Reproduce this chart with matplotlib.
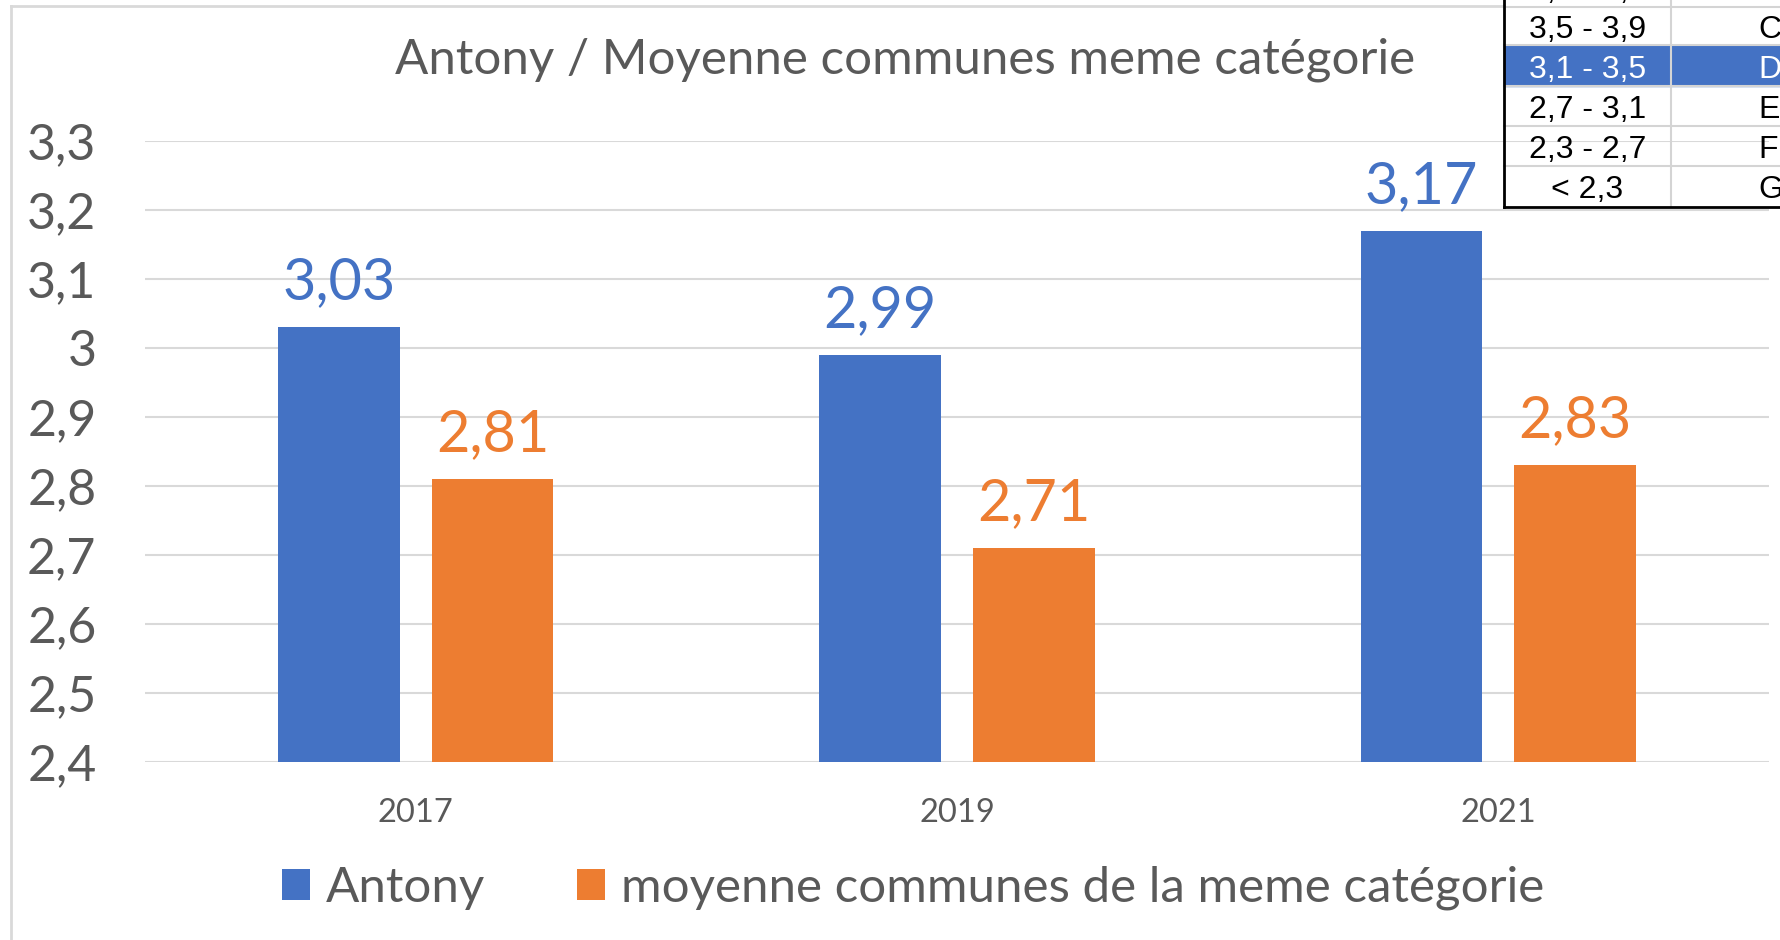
import numpy as np
import matplotlib
matplotlib.use("Agg")
import matplotlib.pyplot as plt
from matplotlib.patches import Rectangle

# data
years = ["2017", "2019", "2021"]
antony = [3.03, 2.99, 3.17]
moyenne = [2.81, 2.71, 2.83]
series_names = ["Antony", "moyenne communes de la meme catégorie"]
title = "Antony / Moyenne communes meme catégorie"
y_ticks = [2.4, 2.5, 2.6, 2.7, 2.8, 2.9, 3.0, 3.1, 3.2, 3.3]

# little lookup table pasted on the sheet (top right)
table_ranges = ["3,9 - 4,3", "3,5 - 3,9", "3,1 - 3,5", "2,7 - 3,1", "2,3 - 2,7", "< 2,3"]
table_letters = ["B", "C", "D", "E", "F", "G"]
highlight_row = 2

BLUE = "#4472C4"
ORANGE = "#ED7D31"
GRAY = "#595959"
GRID = "#D9D9D9"
FONT = "Lato"

W, H = 1780, 940
fig = plt.figure(figsize=(W / 100, H / 100), dpi=100)


def fx(px):
    return px / W


def fy(py):
    return 1 - py / H


# table drawn on the figure, below the chart
row_edges = [-33, 7, 45, 86, 126, 166, 207]
tx0, tx1, tx2 = 1504, 1671, 1790
for i, (rng, let) in enumerate(zip(table_ranges, table_letters)):
    top, bot = row_edges[i], row_edges[i + 1]
    if i == highlight_row:
        fig.patches.append(Rectangle((fx(tx0), fy(bot)), fx(tx2 - tx0), (bot - top) / H,
                                     transform=fig.transFigure, color=BLUE, zorder=0))
        col = "white"
    else:
        col = "black"
    yc = fy((top + bot) / 2 + 4)
    fig.text(fx((tx0 + tx1) / 2), yc, rng, ha="center", va="center", fontsize=23,
             family="Liberation Sans", color=col, zorder=1)
    fig.text(fx(1758), yc, let, ha="left", va="center", fontsize=23,
             family="Liberation Sans", color=col, zorder=1)
for e in row_edges[1:-1]:
    fig.add_artist(plt.Line2D([fx(tx0), fx(tx2)], [fy(e), fy(e)], color="#D4D4D4",
                              lw=1.5, zorder=0.5))
fig.add_artist(plt.Line2D([fx(tx1), fx(tx1)], [fy(0), fy(207)], color="#D4D4D4",
                          lw=1.5, zorder=0.5))
fig.add_artist(plt.Line2D([fx(tx0), fx(tx0)], [fy(-5), fy(207)], color="black",
                          lw=2, zorder=0.6))
fig.add_artist(plt.Line2D([fx(tx0), fx(tx2)], [fy(207), fy(207)], color="black",
                          lw=2, zorder=0.6))

# chart frame
fig.add_artist(plt.Line2D([fx(11), fx(1504)], [fy(6), fy(6)], color=GRID, lw=2, zorder=0))
fig.add_artist(plt.Line2D([fx(11), fx(11)], [fy(6), fy(945)], color=GRID, lw=2, zorder=0))

ax = fig.add_axes([fx(145), fy(762), fx(1769 - 145), (762 - 141) / H])
ax.patch.set_alpha(0)

x = np.arange(len(years))
w = 0.225
off = 0.142
b1 = ax.bar(x - off, antony, w, color=BLUE, label=series_names[0], zorder=2)
b2 = ax.bar(x + off, moyenne, w, color=ORANGE, label=series_names[1], zorder=2)

for bars, vals, c in [(b1, antony, BLUE), (b2, moyenne, ORANGE)]:
    for r, v in zip(bars, vals):
        ax.annotate(f"{v:.2f}".replace(".", ","), (r.get_x() + r.get_width() / 2, v),
                    xytext=(0, 20), textcoords="offset points", ha="center",
                    va="baseline", fontsize=41.5, color=c, family=FONT)

ax.set_ylim(2.4, 3.3)
ax.set_xlim(-0.5, 2.5)
ax.set_yticks(y_ticks)
ax.set_yticklabels([f"{t:g}".replace(".", ",") for t in y_ticks])
ax.set_xticks(x)
ax.set_xticklabels(years)
ax.yaxis.grid(True, color=GRID, lw=1.5, zorder=0)
ax.set_axisbelow(True)
for s in ax.spines.values():
    s.set_visible(False)
ax.tick_params(axis="y", length=0, pad=35, labelsize=36, labelcolor=GRAY)
ax.tick_params(axis="x", length=0, pad=26, labelsize=23.5, labelcolor=GRAY)
for lab in ax.get_xticklabels() + ax.get_yticklabels():
    lab.set_family(FONT)

fig.text(fx(905), fy(60), title, ha="center", va="center", fontsize=35.5,
         color=GRAY, family=FONT)

leg = ax.legend(loc="center", bbox_to_anchor=(fx(913), fy(888)),
                bbox_transform=fig.transFigure, ncol=2, frameon=False,
                handlelength=0.57, handleheight=0.57, handletextpad=0.33,
                columnspacing=1.85, prop={"family": FONT, "size": 35.5})
for t in leg.get_texts():
    t.set_color(GRAY)

fig.savefig("out.png", dpi=100)
